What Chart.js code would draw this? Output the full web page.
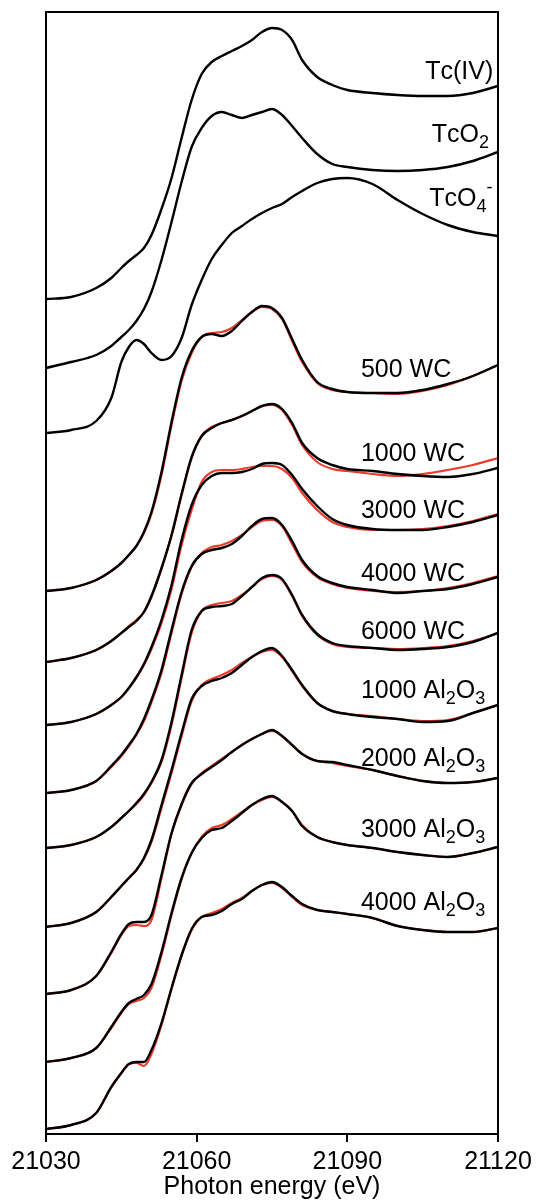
<!DOCTYPE html>
<html>
<head>
<meta charset="utf-8">
<script src="https://cdn.jsdelivr.net/npm/chart.js@4.4.0/dist/chart.umd.min.js"></script>
<style>
  html, body { margin: 0; padding: 0; background: #fff; }
  #wrap { width: 539px; height: 1204px; }
</style>
</head>
<body>
<div id="wrap"><canvas id="xanes" width="539" height="1204"></canvas></div>
<script>
// ------------------------------------------------------------
// Tc K-edge XANES, stacked (normalised absorbance + offset)
// black = measured, red = linear-combination fit
// ------------------------------------------------------------
const energy = [21030, 21035, 21040, 21043, 21045, 21046.5, 21048, 21049.5, 21051, 21053, 21055,
  21057, 21059, 21061, 21063, 21065, 21067, 21069, 21071, 21073, 21075, 21077, 21079, 21081,
  21084, 21087, 21090, 21095, 21100, 21105, 21110, 21115, 21120];

const tcIV = [8.35, 8.37, 8.46, 8.56, 8.66, 8.73, 8.79, 8.86, 8.99, 9.25, 9.56, 9.96, 10.34, 10.60, 10.72, 10.78, 10.83, 10.88, 10.94, 11.02, 11.06, 11.04, 10.94, 10.74, 10.57, 10.49, 10.44, 10.41, 10.39, 10.38, 10.38, 10.41, 10.48];
const tcO2 = [7.66, 7.72, 7.79, 7.88, 7.97, 8.04, 8.13, 8.25, 8.42, 8.74, 9.12, 9.52, 9.87, 10.06, 10.18, 10.22, 10.19, 10.16, 10.19, 10.22, 10.25, 10.19, 10.08, 9.96, 9.80, 9.70, 9.67, 9.64, 9.63, 9.64, 9.67, 9.73, 9.82];
const tcO4 = [7.01, 7.04, 7.13, 7.36, 7.72, 7.87, 7.94, 7.90, 7.81, 7.74, 7.78, 7.96, 8.29, 8.54, 8.75, 8.89, 9.01, 9.08, 9.15, 9.21, 9.26, 9.30, 9.37, 9.43, 9.51, 9.55, 9.56, 9.50, 9.34, 9.20, 9.09, 9.02, 8.98];

const wc500 = [5.43, 5.46, 5.54, 5.63, 5.71, 5.79, 5.88, 6.02, 6.22, 6.62, 7.12, 7.56, 7.83, 7.97, 8.00, 7.98, 8.03, 8.13, 8.22, 8.28, 8.26, 8.16, 7.95, 7.74, 7.52, 7.45, 7.42, 7.41, 7.41, 7.44, 7.50, 7.58, 7.69];
const wc500Fit = [5.43, 5.46, 5.54, 5.63, 5.71, 5.79, 5.88, 6.01, 6.20, 6.59, 7.09, 7.53, 7.81, 7.97, 8.01, 8.02, 8.06, 8.14, 8.22, 8.27, 8.25, 8.15, 7.93, 7.72, 7.51, 7.44, 7.42, 7.41, 7.40, 7.43, 7.49, 7.58, 7.69];
const wc1000 = [4.72, 4.76, 4.84, 4.93, 5.01, 5.07, 5.13, 5.22, 5.38, 5.66, 5.99, 6.40, 6.77, 6.98, 7.06, 7.11, 7.14, 7.18, 7.23, 7.28, 7.30, 7.25, 7.11, 6.91, 6.76, 6.69, 6.65, 6.63, 6.60, 6.58, 6.57, 6.60, 6.66];
const wc1000Fit = [4.72, 4.76, 4.84, 4.93, 5.01, 5.08, 5.14, 5.22, 5.37, 5.65, 5.98, 6.39, 6.76, 6.98, 7.07, 7.11, 7.14, 7.18, 7.23, 7.28, 7.29, 7.24, 7.09, 6.89, 6.72, 6.65, 6.63, 6.60, 6.58, 6.60, 6.64, 6.69, 6.76];
const wc3000 = [4.09, 4.12, 4.20, 4.29, 4.37, 4.46, 4.57, 4.70, 4.87, 5.14, 5.49, 5.94, 6.29, 6.49, 6.58, 6.61, 6.61, 6.62, 6.65, 6.70, 6.71, 6.69, 6.59, 6.45, 6.28, 6.15, 6.09, 6.05, 6.04, 6.04, 6.07, 6.12, 6.19];
const wc3000Fit = [4.09, 4.12, 4.20, 4.29, 4.37, 4.46, 4.56, 4.69, 4.85, 5.11, 5.45, 5.89, 6.24, 6.52, 6.62, 6.64, 6.64, 6.65, 6.67, 6.68, 6.68, 6.65, 6.56, 6.41, 6.24, 6.12, 6.07, 6.04, 6.04, 6.05, 6.08, 6.13, 6.20];
const wc4000 = [3.41, 3.44, 3.53, 3.68, 3.79, 3.89, 4.00, 4.15, 4.34, 4.64, 5.04, 5.42, 5.68, 5.80, 5.84, 5.86, 5.90, 5.98, 6.08, 6.15, 6.16, 6.09, 5.93, 5.74, 5.58, 5.51, 5.47, 5.44, 5.41, 5.43, 5.45, 5.50, 5.57];
const wc4000Fit = [3.41, 3.44, 3.53, 3.67, 3.78, 3.88, 3.99, 4.13, 4.32, 4.61, 5.01, 5.40, 5.67, 5.81, 5.87, 5.89, 5.93, 5.99, 6.07, 6.13, 6.14, 6.08, 5.90, 5.72, 5.57, 5.50, 5.46, 5.43, 5.42, 5.43, 5.46, 5.51, 5.58];
const wc6000 = [2.86, 2.89, 2.97, 3.07, 3.16, 3.23, 3.31, 3.40, 3.52, 3.74, 4.12, 4.59, 5.04, 5.23, 5.27, 5.28, 5.30, 5.38, 5.47, 5.56, 5.59, 5.55, 5.39, 5.19, 5.00, 4.91, 4.88, 4.86, 4.84, 4.85, 4.87, 4.92, 5.01];
const wc6000Fit = [2.86, 2.89, 2.97, 3.07, 3.16, 3.23, 3.30, 3.39, 3.51, 3.72, 4.09, 4.56, 5.01, 5.23, 5.29, 5.31, 5.33, 5.39, 5.47, 5.55, 5.58, 5.54, 5.38, 5.18, 4.99, 4.90, 4.87, 4.86, 4.85, 4.86, 4.88, 4.93, 5.01];
const al1000 = [2.07, 2.11, 2.22, 2.37, 2.48, 2.56, 2.64, 2.76, 2.94, 3.29, 3.64, 4.01, 4.35, 4.48, 4.53, 4.56, 4.61, 4.69, 4.77, 4.83, 4.86, 4.78, 4.64, 4.49, 4.31, 4.23, 4.20, 4.17, 4.15, 4.12, 4.13, 4.21, 4.29];
const al1000Fit = [2.07, 2.11, 2.22, 2.37, 2.48, 2.56, 2.64, 2.75, 2.92, 3.26, 3.61, 3.98, 4.33, 4.49, 4.55, 4.59, 4.64, 4.71, 4.77, 4.82, 4.84, 4.77, 4.63, 4.48, 4.31, 4.23, 4.20, 4.18, 4.15, 4.13, 4.14, 4.21, 4.29];
const al2000 = [1.40, 1.44, 1.58, 1.82, 2.00, 2.10, 2.12, 2.12, 2.19, 2.59, 3.01, 3.30, 3.51, 3.60, 3.67, 3.74, 3.82, 3.89, 3.95, 4.00, 4.04, 3.98, 3.89, 3.80, 3.73, 3.72, 3.69, 3.64, 3.58, 3.53, 3.51, 3.52, 3.56];
const al2000Fit = [1.40, 1.44, 1.58, 1.81, 1.99, 2.08, 2.09, 2.08, 2.14, 2.56, 3.00, 3.29, 3.50, 3.61, 3.68, 3.75, 3.82, 3.89, 3.95, 4.00, 4.03, 3.98, 3.89, 3.80, 3.73, 3.71, 3.68, 3.64, 3.58, 3.53, 3.51, 3.52, 3.56];
const al3000 = [0.72, 0.76, 0.86, 1.07, 1.22, 1.31, 1.35, 1.39, 1.50, 1.82, 2.21, 2.56, 2.81, 2.96, 3.04, 3.06, 3.13, 3.21, 3.29, 3.35, 3.38, 3.32, 3.23, 3.08, 2.97, 2.92, 2.89, 2.86, 2.82, 2.79, 2.77, 2.81, 2.87];
const al3000Fit = [0.72, 0.76, 0.86, 1.06, 1.21, 1.30, 1.33, 1.36, 1.46, 1.79, 2.19, 2.55, 2.81, 2.97, 3.06, 3.09, 3.15, 3.22, 3.29, 3.34, 3.37, 3.32, 3.23, 3.09, 2.97, 2.92, 2.89, 2.86, 2.82, 2.79, 2.77, 2.81, 2.87];
const al4000 = [0.05, 0.09, 0.21, 0.47, 0.61, 0.70, 0.72, 0.72, 0.84, 1.11, 1.46, 1.79, 2.05, 2.17, 2.19, 2.23, 2.30, 2.35, 2.43, 2.49, 2.52, 2.47, 2.38, 2.30, 2.24, 2.22, 2.20, 2.16, 2.08, 2.04, 2.02, 2.02, 2.06];
const al4000Fit = [0.05, 0.09, 0.21, 0.47, 0.61, 0.70, 0.71, 0.68, 0.80, 1.09, 1.45, 1.78, 2.04, 2.17, 2.21, 2.25, 2.31, 2.36, 2.43, 2.49, 2.51, 2.46, 2.37, 2.29, 2.24, 2.22, 2.20, 2.16, 2.08, 2.04, 2.02, 2.02, 2.06];

// references (no fit) and samples (data + fit)
const refNames = ['Tc(IV)', 'TcO_2', 'TcO_4^-'];
const refSeries = [tcIV, tcO2, tcO4];
const sampleNames = ['500 WC', '1000 WC', '3000 WC', '4000 WC', '6000 WC',
  '1000 Al_2O_3', '2000 Al_2O_3', '3000 Al_2O_3', '4000 Al_2O_3'];
const sampleData = [wc500, wc1000, wc3000, wc4000, wc6000, al1000, al2000, al3000, al4000];
const sampleFit = [wc500Fit, wc1000Fit, wc3000Fit, wc4000Fit, wc6000Fit, al1000Fit, al2000Fit, al3000Fit, al4000Fit];
const xTicks = [21030, 21060, 21090, 21120];

// where the curve names sit, in (energy, offset absorbance)
const refLabelAt = [[21105.5, 10.55], [21106.8, 9.92], [21106.3, 9.28]];
const sampleLabelAt = [7.57, 6.73, 6.16, 5.53, 4.95, 4.36, 3.68, 2.97, 2.24].map(v => [21092.7, v]);

const FONT = '"Liberation Sans", Arial, Helvetica, sans-serif';
const BLACK = '#000000';
const RED = '#ea3b2c';

const toPoints = arr => energy.map((e, i) => ({ x: e, y: arr[i] }));
const datasets = [];
refSeries.forEach((s, i) => datasets.push({
  label: refNames[i], data: toPoints(s), borderColor: BLACK, borderWidth: 2.4, order: 0,
}));
sampleData.forEach((s, i) => {
  datasets.push({ label: sampleNames[i], data: toPoints(s), borderColor: BLACK, borderWidth: 2.4, order: 0 });
  datasets.push({ label: sampleNames[i] + ' fit', data: toPoints(sampleFit[i]), borderColor: RED, borderWidth: 2.2, order: 1 });
});

// "_x" -> subscript, "^x" -> superscript
function drawRichText(ctx, str, px, py) {
  let i = 0, cx = px;
  while (i < str.length) {
    let ch = str[i], size = 25, dy = 0;
    if ((ch === '_' || ch === '^') && i + 1 < str.length) {
      size = 18;
      dy = ch === '_' ? 6 : -13;
      ch = str[i + 1];
      i += 2;
    } else {
      i += 1;
    }
    ctx.font = `${size}px ${FONT}`;
    ctx.fillText(ch, cx, py + dy);
    cx += ctx.measureText(ch).width;
  }
}

const frameAndLabels = {
  id: 'frameAndLabels',
  afterDatasetsDraw(chart) {
    const { ctx, chartArea: a, scales: { x, y } } = chart;
    ctx.save();
    ctx.strokeStyle = BLACK;
    ctx.lineWidth = 2;
    ctx.strokeRect(a.left, a.top, a.right - a.left, a.bottom - a.top);
    ctx.fillStyle = BLACK;
    ctx.textAlign = 'left';
    ctx.textBaseline = 'alphabetic';
    const all = refNames.concat(sampleNames);
    const at = refLabelAt.concat(sampleLabelAt);
    all.forEach((txt, i) => {
      drawRichText(ctx, txt, x.getPixelForValue(at[i][0]), y.getPixelForValue(at[i][1]));
    });
    ctx.restore();
  },
};

new Chart(document.getElementById('xanes'), {
  type: 'line',
  data: { datasets },
  plugins: [frameAndLabels],
  options: {
    responsive: false,
    animation: false,
    devicePixelRatio: 1,
    layout: { padding: { left: 46, right: 41, top: 12, bottom: 0 } },
    plugins: { legend: { display: false }, tooltip: { enabled: false } },
    elements: {
      point: { radius: 0 },
      line: { cubicInterpolationMode: 'monotone', fill: false },
    },
    scales: {
      x: {
        type: 'linear',
        min: 21030,
        max: 21120,
        afterBuildTicks: scale => { scale.ticks = xTicks.map(v => ({ value: v })); },
        afterFit: scale => { scale.height = 70; },
        ticks: {
          color: BLACK,
          padding: 5,
          maxRotation: 0,
          autoSkip: false,
          font: { family: FONT, size: 25 },
          callback: v => String(v),
        },
        grid: { drawOnChartArea: false, drawTicks: true, tickLength: 8, color: BLACK, lineWidth: 2 },
        border: { display: true, color: BLACK, width: 2 },
        title: {
          display: true,
          text: 'Photon energy (eV)',
          color: BLACK,
          font: { family: FONT, size: 25 },
          padding: { top: 0, bottom: 2 },
        },
      },
      y: { display: false, min: 0, max: 11.22 },
    },
  },
});
</script>
</body>
</html>
